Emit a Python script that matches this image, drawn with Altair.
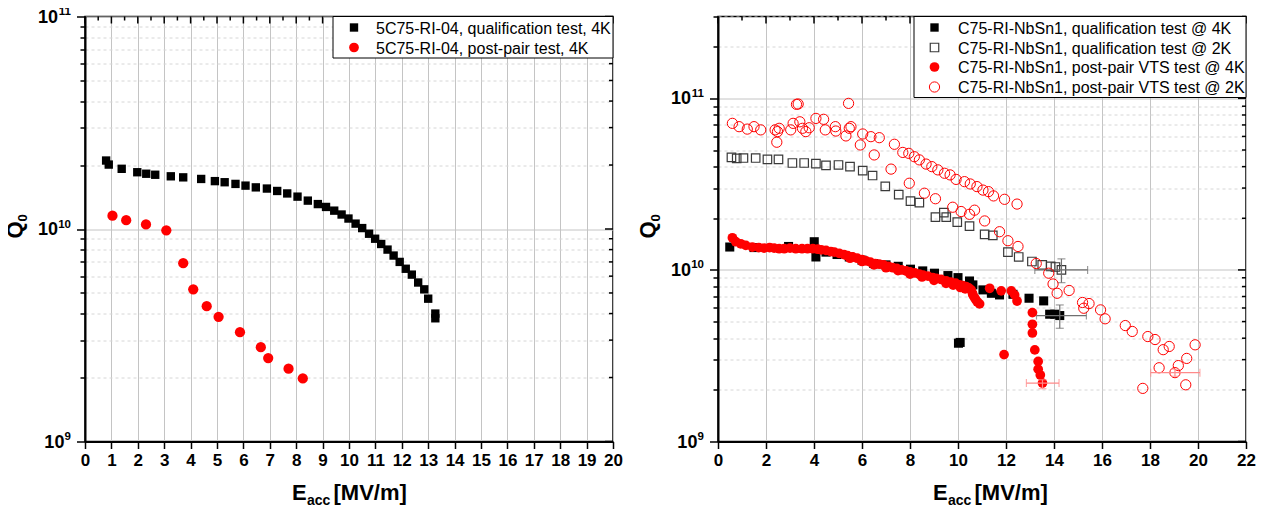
import altair as alt
import pandas as pd

FONT = "Liberation Sans"
W, H = 528, 425

# ---------------- left panel data ----------------
left_names = ["5C75-RI-04, qualification test, 4K", "5C75-RI-04, post-pair test, 4K"]
left_qual_E = [0.80, 0.90, 1.39, 1.98, 2.32, 2.66, 3.25, 3.72, 4.40, 4.92, 5.29, 5.70, 6.08, 6.47,
               6.89, 7.28, 7.66, 8.05, 8.44, 8.82, 9.13, 9.44, 9.72, 9.98, 10.25, 10.50, 10.76,
               10.99, 11.22, 11.46, 11.69, 11.92, 12.15, 12.38, 12.62, 12.85, 13.00, 13.27, 13.27]
left_qual_Q = [2.10e10, 2.01e10, 1.92e10, 1.85e10, 1.82e10, 1.80e10, 1.77e10, 1.75e10, 1.72e10,
               1.68e10, 1.66e10, 1.63e10, 1.60e10, 1.57e10, 1.55e10, 1.51e10, 1.47e10, 1.42e10,
               1.36e10, 1.31e10, 1.27e10, 1.22e10, 1.17e10, 1.12e10, 1.06e10, 1.01e10, 9.5e9,
               9.0e9, 8.5e9, 8.0e9, 7.5e9, 7.0e9, 6.5e9, 6.1e9, 5.6e9, 5.2e9, 4.7e9, 4.0e9, 3.8e9]
left_post_E = [1.04, 1.56, 2.31, 3.08, 3.72, 4.10, 4.61, 5.06, 5.87, 6.66, 6.94, 7.71, 8.25]
left_post_Q = [1.155e10, 1.10e10, 1.05e10, 9.86e9, 6.9e9, 5.2e9, 4.33e9, 3.86e9, 3.27e9,
               2.78e9, 2.47e9, 2.20e9, 1.98e9]

# ---------------- right panel data ----------------
right_names = ["C75-RI-NbSn1, qualification test @ 4K", "C75-RI-NbSn1, qualification test @ 2K",
               "C75-RI-NbSn1, post-pair VTS test @ 4K", "C75-RI-NbSn1, post-pair VTS test @ 2K"]
q4_E = [0.49, 1.50, 2.94, 4.01, 4.08, 4.50, 4.96, 5.47, 6.00, 6.49, 7.00, 7.51, 8.02, 8.53, 9.02,
        9.58, 10.00, 10.48, 10.62, 11.04, 11.39, 11.73, 12.29, 12.96, 13.57, 13.82, 14.03, 14.24,
        10.02, 10.09]
q4_Q = [1.36e10, 1.35e10, 1.37e10, 1.46e10, 1.19e10, 1.27e10, 1.23e10, 1.19e10, 1.14e10, 1.09e10,
        1.07e10, 1.05e10, 1.01e10, 9.87e9, 9.57e9, 9.27e9, 9.02e9, 8.62e9, 8.18e9, 7.65e9, 7.31e9,
        7.15e9, 7.21e9, 6.84e9, 6.60e9, 5.52e9, 5.52e9, 5.42e9, 3.74e9, 3.78e9]
q2_E = [0.56, 0.78, 1.06, 1.57, 2.06, 2.52, 3.10, 3.59, 4.08, 4.50, 5.02, 5.50, 6.03, 6.44, 6.97,
        7.53, 8.02, 8.39, 9.06, 9.41, 9.51, 9.97, 10.48, 11.11, 11.45, 12.08, 12.53, 13.08, 13.51,
        13.86, 14.06, 14.31]
q2_Q = [4.53e10, 4.47e10, 4.49e10, 4.49e10, 4.41e10, 4.41e10, 4.20e10, 4.20e10, 4.16e10, 4.07e10,
        4.09e10, 4.00e10, 3.79e10, 3.55e10, 3.07e10, 2.75e10, 2.52e10, 2.47e10, 2.03e10, 2.16e10,
        2.03e10, 1.90e10, 1.80e10, 1.61e10, 1.59e10, 1.27e10, 1.19e10, 1.12e10, 1.07e10, 1.05e10,
        1.04e10, 1.00e10]
p4_E = [0.60, 0.74, 0.95, 1.16, 1.43, 1.70, 1.92, 2.15, 2.34, 2.55, 2.76, 3.00, 3.24, 3.50, 3.73,
        3.95, 4.15, 4.30, 4.50, 4.70, 4.85, 5.05, 5.25, 5.40, 5.61, 5.80, 6.00, 6.17, 6.35, 6.55,
        6.72, 6.90, 7.10, 7.28, 7.45, 7.65, 7.84, 8.00, 8.20, 8.39, 8.55, 8.75, 8.95, 9.10, 9.30,
        9.51, 9.70, 9.90, 10.06, 10.20, 10.34,
        5.50, 6.00, 6.50, 7.00, 7.50, 8.00, 8.50, 9.00, 9.50, 9.80, 10.10, 10.30,
        10.45, 10.55, 10.60, 10.62, 10.68, 10.73, 10.80, 10.90,
        11.32, 11.80, 12.22, 12.36, 12.46, 11.92, 13.10, 13.10, 13.10, 13.20, 13.34, 13.34, 13.43,
        13.52]
p4_Q = [1.54e10, 1.46e10, 1.42e10, 1.39e10, 1.36e10, 1.35e10, 1.34e10, 1.35e10, 1.34e10, 1.33e10,
        1.33e10, 1.34e10, 1.33e10, 1.33e10, 1.33e10, 1.33e10, 1.32e10, 1.31e10, 1.30e10, 1.28e10,
        1.27e10, 1.25e10, 1.23e10, 1.21e10, 1.19e10, 1.17e10, 1.15e10, 1.13e10, 1.11e10, 1.09e10,
        1.08e10, 1.07e10, 1.05e10, 1.03e10, 1.02e10, 1.00e10, 9.86e9, 9.74e9, 9.60e9, 9.44e9,
        9.33e9, 9.20e9, 9.02e9, 8.92e9, 8.80e9, 8.63e9, 8.50e9, 8.37e9, 8.18e9, 8.10e9, 8.00e9,
        1.17e10, 1.12e10, 1.07e10, 1.03e10, 9.90e9, 9.45e9, 9.10e9, 8.70e9, 8.35e9, 8.15e9, 7.90e9,
        7.75e9,
        7.85e9, 7.65e9, 7.33e9, 7.15e9, 6.92e9, 6.75e9, 6.53e9, 6.34e9,
        7.82e9, 7.55e9, 7.55e9, 7.15e9, 6.59e9, 3.21e9, 5.64e9, 4.82e9, 4.29e9, 3.42e9, 2.93e9,
        2.64e9, 2.44e9, 2.19e9]
p2_E = [0.60, 0.88, 1.22, 1.50, 1.78, 2.38, 2.55, 2.48, 2.45, 3.03, 3.13, 3.27, 3.34, 3.41, 3.52,
        3.66, 3.80, 4.08, 4.40, 4.47, 4.89, 4.91, 5.33, 5.44, 5.47, 5.54, 5.93, 6.03, 6.37, 6.51,
        6.72, 7.21, 7.35, 7.70, 7.95, 7.97, 8.18, 8.39, 8.60, 8.67, 8.91, 9.06, 9.16, 9.44, 9.67,
        9.78, 9.92, 10.13, 10.27, 10.48, 10.51, 10.69, 10.79, 11.04, 11.11, 11.27, 11.48, 11.73,
        11.94, 12.08, 12.46, 12.50, 13.26, 13.78, 13.96, 14.13, 14.63, 15.19, 15.24, 15.46, 15.94,
        16.13, 16.97, 17.26, 17.70, 17.91, 18.21, 18.38, 18.55, 18.80, 19.04, 19.18, 19.49, 19.53,
        19.88]
p2_Q = [7.15e10, 6.84e10, 6.62e10, 6.84e10, 6.55e10, 6.55e10, 6.69e10, 6.40e10, 5.55e10, 6.55e10,
        7.15e10, 9.23e10, 9.27e10, 7.30e10, 6.69e10, 6.40e10, 6.74e10, 7.64e10, 7.55e10, 6.55e10,
        6.84e10, 6.45e10, 6.04e10, 9.35e10, 6.69e10, 6.84e10, 5.35e10, 6.20e10, 5.98e10, 4.68e10,
        5.90e10, 3.87e10, 5.40e10, 4.84e10, 4.78e10, 3.20e10, 4.57e10, 4.38e10, 2.80e10, 4.14e10,
        4.00e10, 2.60e10, 3.83e10, 3.66e10, 3.58e10, 2.32e10, 3.37e10, 2.19e10, 3.27e10, 2.11e10,
        3.17e10, 2.23e10, 3.06e10, 2.92e10, 1.93e10, 2.86e10, 2.70e10, 1.67e10, 2.58e10, 1.48e10,
        2.42e10, 1.37e10, 1.09e10, 9.57e9, 8.28e9, 7.31e9, 7.59e9, 6.46e9, 5.98e9, 6.37e9, 5.85e9,
        5.19e9, 4.74e9, 4.38e9, 2.04e9, 4.09e9, 3.93e9, 2.69e9, 3.43e9, 3.58e9, 2.52e9, 2.77e9,
        2.14e9, 3.05e9, 3.66e9]

# error bars (centre, x-range, y-range)
err_gray_E = [14.24, 14.31]
err_gray_Q = [5.42e9, 1.00e10]
err_gray_Elo = [13.27, 13.20]
err_gray_Ehi = [15.35, 15.40]
err_gray_Qlo = [4.57e9, 8.43e9]
err_gray_Qhi = [6.25e9, 1.16e10]
err_red_E = [13.52, 19.04]
err_red_Q = [2.19e9, 2.52e9]
err_red_Elo = [12.85, 18.03]
err_red_Ehi = [14.21, 20.08]
err_red_Qlo = [2.03e9, 2.40e9]
err_red_Qhi = [2.29e9, 2.64e9]

# tick values
left_xticks = [i * 0.5 for i in range(0, 41)]
right_xticks = list(range(0, 23))
y_mult = [1, 2, 3, 4, 5, 6, 7, 8, 9]
decades = [1e9, 1e10, 1e11]

ONE = pd.DataFrame({"k": [0]})
MAJ_Y = "(datum.value == 1e9 || datum.value == 1e10 || datum.value == 1e11)"


def frame(E, Q):
    return pd.DataFrame({"E": E, "Q": Q})


def xenc(xscale, ticks, major_test):
    return alt.X("E:Q", scale=xscale,
                 axis=alt.Axis(values=ticks, title=None, format="d",
                               labelExpr=f"{major_test} ? datum.label : ''",
                               labelFont=FONT, labelFontSize=17, labelFontWeight="bold",
                               labelColor="black", labelPadding=4, labelOverlap=False,
                               labelFlush=False,
                               tickSize={"condition": {"test": major_test, "value": 7}, "value": 4},
                               tickColor="black", tickWidth=1.5,
                               domainColor="black", domainWidth=2,
                               grid=True, gridColor="#c4c4c4", gridWidth=1,
                               gridOpacity={"condition": {"test": major_test, "value": 1}, "value": 0}))


def yenc(yscale, ticks):
    return alt.Y("Q:Q", scale=yscale,
                 axis=alt.Axis(values=ticks, title=None, labels=False,
                               tickSize={"condition": {"test": MAJ_Y, "value": 8.5}, "value": 5},
                               tickColor="black", tickWidth=1.5,
                               domainColor="black", domainWidth=2,
                               grid=True,
                               gridColor={"condition": {"test": MAJ_Y, "value": "#c4c4c4"}, "value": "#d6d6d6"},
                               gridDash={"condition": {"test": MAJ_Y, "value": []}, "value": [3, 3]},
                               gridWidth=1))


def frame_layers(X, Y, xticks, major_x, yticks, ymax):
    xt = pd.DataFrame({"E": xticks})
    yt = pd.DataFrame({"Q": yticks})
    dec = pd.DataFrame({"Q": [d for d in decades if d <= ymax]})
    majq = MAJ_Y.replace("datum.value", "datum.Q")
    lab = dict(font=FONT, fontWeight="bold", color="black", baseline="middle", align="right")
    expo = alt.Chart(dec).transform_calculate(ex="round(log(datum.Q) / LN10)")
    return [
        # inward mirror ticks on top and right
        alt.Chart(xt).transform_filter(major_x).mark_rule(color="black", strokeWidth=1.5)
        .encode(x=X, y=alt.value(0), y2=alt.value(7)),
        alt.Chart(xt).transform_filter(f"!({major_x})").mark_rule(color="black", strokeWidth=1.5)
        .encode(x=X, y=alt.value(0), y2=alt.value(4)),
        alt.Chart(yt).transform_filter(majq).mark_rule(color="black", strokeWidth=1.5)
        .encode(y=Y, x=alt.value(W), x2=alt.value(W - 8)),
        alt.Chart(yt).transform_filter("!" + majq).mark_rule(color="black", strokeWidth=1.5)
        .encode(y=Y, x=alt.value(W), x2=alt.value(W - 4)),
        # y tick labels: 10 with superscript exponent
        expo.mark_text(fontSize=11.5, dy=-4.5, **lab)
        .encode(y=Y, x=alt.value(-14), text=alt.Text("ex:Q", format="d")),
        expo.transform_filter("datum.ex < 10").mark_text(fontSize=18, dy=1, **lab)
        .encode(y=Y, x=alt.value(-14 - 6.6), text=alt.value("10")),
        expo.transform_filter("datum.ex >= 10").mark_text(fontSize=18, dy=1, **lab)
        .encode(y=Y, x=alt.value(-14 - 13), text=alt.value("10")),
        # y title Q0
        alt.Chart(ONE).mark_text(font=FONT, fontWeight="bold", color="black", fontSize=22, angle=270,
                                 align="center", baseline="alphabetic")
        .encode(x=alt.value(-63.5), y=alt.value(H / 2 + 1), text=alt.value("Q")),
        alt.Chart(ONE).mark_text(font=FONT, fontWeight="bold", color="black", fontSize=13, angle=270,
                                 align="center", baseline="alphabetic")
        .encode(x=alt.value(-58.5), y=alt.value(H / 2 - 11), text=alt.value("0")),
    ]


def xtitle_layers(shift):
    base = dict(font=FONT, fontWeight="bold", color="black", baseline="alphabetic", align="left")
    x0 = W / 2 - 57 + shift
    return [
        alt.Chart(ONE).mark_text(fontSize=22, **base).encode(x=alt.value(x0), y=alt.value(H + 58), text=alt.value("E")),
        alt.Chart(ONE).mark_text(fontSize=14, **base).encode(x=alt.value(x0 + 15), y=alt.value(H + 63), text=alt.value("acc")),
        alt.Chart(ONE).mark_text(fontSize=22, **base).encode(x=alt.value(x0 + 41.5), y=alt.value(H + 58), text=alt.value("[MV/m]")),
    ]


def legend_layers(names, styles, box_x, row_y, sym_x, txt_x):
    layers = [alt.Chart(ONE).mark_rect(fill="white", stroke="black", strokeWidth=1)
              .encode(x=alt.value(box_x), x2=alt.value(W), y=alt.value(0), y2=alt.value(row_y[-1] + 10.5))]
    for name, st, yy in zip(names, styles, row_y):
        layers.append(alt.Chart(ONE).mark_point(opacity=1, **st)
                      .encode(x=alt.value(sym_x), y=alt.value(yy)))
        layers.append(alt.Chart(ONE).mark_text(font=FONT, fontSize=16, color="black", align="left",
                                               baseline="middle")
                      .encode(x=alt.value(txt_x), y=alt.value(yy + 1), text=alt.value(name)))
    return layers


STY_SQ_FILL = dict(shape="square", filled=True, color="black", size=70, strokeWidth=0)
STY_SQ_OPEN = dict(shape="square", filled=False, color="#3a3a3a", size=72, strokeWidth=1.2)
STY_CI_FILL = dict(shape="circle", filled=True, color="#ff0000", size=95, strokeWidth=0)
STY_CI_OPEN = dict(shape="circle", filled=False, color="#ff0000", size=105, strokeWidth=1)

# ---------------- left panel ----------------
LXS = alt.Scale(domain=[0, 20], nice=False, zero=False)
LYS = alt.Scale(type="log", domain=[1e9, 1e11], nice=False)
LX = xenc(LXS, left_xticks, "datum.value % 1 == 0")
ly_ticks = [d * m for d in decades[:2] for m in y_mult] + [1e11]
LY = yenc(LYS, ly_ticks)

left_layers = [
    alt.Chart(frame(left_qual_E, left_qual_Q)).mark_point(opacity=1, **STY_SQ_FILL).encode(x=LX, y=LY),
    alt.Chart(frame(left_post_E, left_post_Q)).mark_point(opacity=1, **dict(STY_CI_FILL, size=105)).encode(x=LX, y=LY),
]
left_layers += frame_layers(LX, LY, left_xticks, "datum.E % 1 == 0", ly_ticks, 1e11)
left_layers += legend_layers(left_names, [STY_SQ_FILL, STY_CI_FILL], 248, [11, 31], 269, 291)
left_layers += xtitle_layers(0)
left = alt.layer(*left_layers).properties(width=W, height=H)

# ---------------- right panel ----------------
RXS = alt.Scale(domain=[0, 22], nice=False, zero=False)
RYS = alt.Scale(type="log", domain=[1e9, 3e11], nice=False)
RX = xenc(RXS, right_xticks, "datum.value % 2 == 0")
ry_ticks = [d * m for d in decades[:2] for m in y_mult] + [1e11, 2e11, 3e11]
RY = yenc(RYS, ry_ticks)


def err_layers(E, Q, Elo, Ehi, Qlo, Qhi, color):
    d = pd.DataFrame({"E": E, "Q": Q, "Elo": Elo, "Ehi": Ehi, "Qlo": Qlo, "Qhi": Qhi})
    caps_x = pd.DataFrame({"E": Elo + Ehi, "Q": Q + Q})
    caps_y = pd.DataFrame({"E": E + E, "Q": Qlo + Qhi})
    return [
        alt.Chart(d).mark_rule(color=color, strokeWidth=1.2).encode(x=alt.X("Elo:Q", scale=RXS), x2="Ehi:Q", y=RY),
        alt.Chart(d).mark_rule(color=color, strokeWidth=1.2).encode(x=RX, y=alt.Y("Qlo:Q", scale=RYS), y2="Qhi:Q"),
        alt.Chart(caps_x).mark_tick(color=color, orient="vertical", size=8, thickness=1.2).encode(x=RX, y=RY),
        alt.Chart(caps_y).mark_tick(color=color, orient="horizontal", size=8, thickness=1.2).encode(x=RX, y=RY),
    ]


right_layers = [
    alt.Chart(frame(q4_E, q4_Q)).mark_point(opacity=1, **dict(STY_SQ_FILL, size=82)).encode(x=RX, y=RY),
    alt.Chart(frame(q2_E, q2_Q)).mark_point(opacity=1, **STY_SQ_OPEN).encode(x=RX, y=RY),
]
right_layers += err_layers(err_gray_E, err_gray_Q, err_gray_Elo, err_gray_Ehi, err_gray_Qlo, err_gray_Qhi, "#707070")
right_layers += [
    alt.Chart(frame(p4_E, p4_Q)).mark_point(opacity=1, **STY_CI_FILL).encode(x=RX, y=RY),
    alt.Chart(frame(p2_E, p2_Q)).mark_point(opacity=1, **STY_CI_OPEN).encode(x=RX, y=RY),
]
right_layers += err_layers(err_red_E, err_red_Q, err_red_Elo, err_red_Ehi, err_red_Qlo, err_red_Qhi, "#ff8a8a")
right_layers += frame_layers(RX, RY, right_xticks, "datum.E % 2 == 0", ry_ticks, 3e11)
right_layers += legend_layers(right_names, [STY_SQ_FILL, STY_SQ_OPEN, STY_CI_FILL, STY_CI_OPEN],
                              196, [11, 31, 50.5, 70.5], 216.5, 240)
right_layers += xtitle_layers(8)
right = alt.layer(*right_layers).properties(width=W, height=H)

chart = (alt.hconcat(left, right, spacing=105, bounds="flush")
         .configure_view(stroke="black", strokeWidth=1.5)
         .properties(padding={"left": -6, "top": -3.5, "right": 0, "bottom": 0}, background="white"))

chart.save("out.html", embed_options={"renderer": "svg", "actions": False})
